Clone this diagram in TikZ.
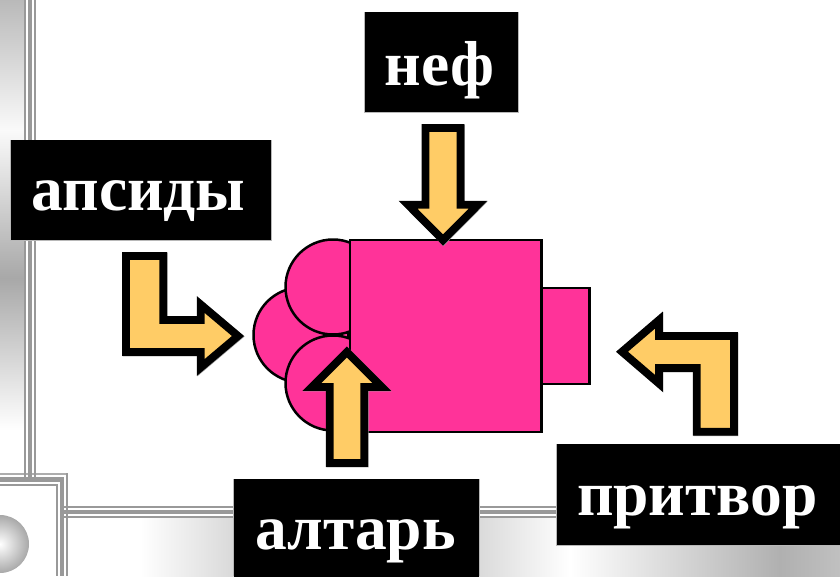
\documentclass[tikz,border=0pt]{standalone}
\usepackage{fontspec}
\setmainfont{Liberation Serif}
\definecolor{framegrey}{HTML}{999999}
\definecolor{plan}{HTML}{FF3399}
\definecolor{arrowfill}{HTML}{FFCC66}
\definecolor{gA}{HTML}{B9B9B9}
\definecolor{gB}{HTML}{FAFAFA}
\definecolor{gC}{HTML}{A8A8A8}
\definecolor{gD}{HTML}{B0B0B0}
\definecolor{gE}{HTML}{C0C0C0}
\newcommand{\blockarrow}[1]{%
  \draw[arrowshadow] [shift={(0.5,0.5)}] #1 -- cycle;
  \draw[blockarrowstyle] #1 -- cycle;}
\tikzset{
  framefill/.style={fill=framegrey,draw=none},
  plandraw/.style={fill=plan,draw=black,line width=2.5pt},
  blockarrowstyle/.style={fill=arrowfill,draw=black,line width=7.8pt,miter limit=10},
  arrowshadow/.style={draw=framegrey,line width=7.8pt,miter limit=10},
  boxedge/.style={fill=framegrey!70,draw=none},
  blackbox/.style={fill=black,draw=none,inner sep=0pt,anchor=north west},
  boxtext/.style={text=white,font=\fontsize{63.5}{64}\selectfont\bfseries,inner sep=0pt,anchor=base},
}
\begin{document}
\begin{tikzpicture}[x=1pt,y=-1pt]
\useasboundingbox (0,0) rectangle (840,576);
\clip (0,0) rectangle (840,576);
% left band
\shade[top color=gA,bottom color=gB] (0,0) rectangle (24,130);
\shade[top color=gB,bottom color=gC] (0,130) rectangle (24,278);
\shade[top color=gC,bottom color=white] (0,278) rectangle (24,430);
% bottom band
\shade[left color=white,right color=gC] (140,518) rectangle (355,576);
\shade[left color=gC,right color=white] (355,518) rectangle (570,576);
\shade[left color=white,right color=gD] (570,518) rectangle (780,576);
\shade[left color=gD,right color=gE] (780,518) rectangle (840,576);
% frame lines
\fill[framefill] (23.9,0) rectangle (26.2,478);
\fill[framefill] (27.9,0) rectangle (32.1,478);
\fill[framefill] (33.8,0) rectangle (36.1,478);
\fill[framefill,fill opacity=.8] (0,473) rectangle (68,475.2);
\fill[framefill] (0,477.4) rectangle (64.1,481.6);
\fill[framefill] (0,483.8) rectangle (58.2,486.1);
\fill[framefill] (55.9,483.8) rectangle (58.2,576);
\fill[framefill] (59.9,477.4) rectangle (64.1,576);
\fill[framefill] (65.9,473) rectangle (68.1,576);
\fill[framefill] (64,505.9) rectangle (840,508.2);
\fill[framefill] (64,509.9) rectangle (840,514.1);
\fill[framefill] (64,515.8) rectangle (840,518.1);
% ball
\shade[inner color=white,outer color=framegrey!85] (0,544) circle [radius=29pt];
% apses
\begin{scope}
\clip (0,0) rectangle (350,576);
\draw[plandraw] (301,335) circle [radius=47.5pt];
\draw[plandraw] (333,383) circle [radius=47.5pt];
\draw[plandraw] (333,287) circle [radius=47.5pt];
\end{scope}
% nave and narthex
\draw[plandraw] (541.5,288) rectangle (589.7,384);
\draw[plandraw] (350,240) rectangle (541.5,432);
% arrows
\blockarrow{(425.5,128) -- (460.5,128) -- (460.5,204.7) -- (478,204.7) -- (443,240) -- (408,204.7) -- (425.5,204.7)}
\blockarrow{(329.7,463) -- (364.3,463) -- (364.3,387) -- (381.8,387) -- (346.8,352) -- (311.8,387) -- (329.7,387)}
\blockarrow{(126,256) -- (163.3,256) -- (163.3,320) -- (200.7,320) -- (200.7,304.5) -- (238,336) -- (200.7,367.5) -- (200.7,352) -- (126,352)}
\blockarrow{(734,431.7) -- (696.7,431.7) -- (696.7,368) -- (659,368) -- (659,383.5) -- (622,351.7) -- (659,320) -- (659,336) -- (734,336)}
% label boxes
\fill[boxedge] (364.4,12) rectangle (518.6,112.6);
\fill[boxedge] (10.4,140) rectangle (271.6,240.8);
\fill[boxedge] (233.4,479) rectangle (479.6,576);
\fill[boxedge] (556.4,444) rectangle (840,545.8);
\node[blackbox,minimum width=153pt,minimum height=100pt] (nefbox) at (365,12) {};
\node[blackbox,minimum width=260pt,minimum height=100pt] (apsbox) at (11,140) {};
\node[blackbox,minimum width=245pt,minimum height=100pt] (altbox) at (234,479) {};
\node[blackbox,minimum width=290pt,minimum height=101pt] (narbox) at (557,444) {};
\node[boxtext] (neftext) at (439.3,85) {неф};
\node[boxtext] (apstext) at (138.5,210) {апсиды};
\node[boxtext] (alttext) at (355.5,549) {алтарь};
\node[boxtext] (nartext) at (697.3,515) {притвор};
\end{tikzpicture}
\end{document}
